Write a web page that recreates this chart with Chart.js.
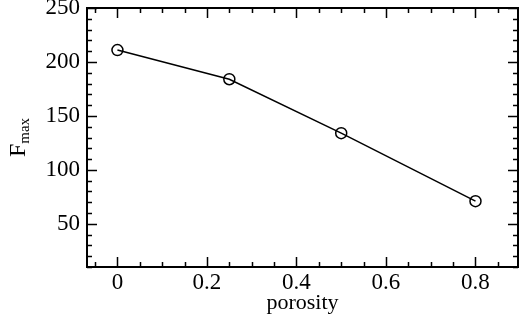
<!DOCTYPE html>
<html>
<head>
<meta charset="utf-8">
<script src="https://cdn.jsdelivr.net/npm/chart.js@4.4.1/dist/chart.umd.min.js"></script>
<style>
html,body{margin:0;padding:0;background:#fff;}
#wrap{width:521px;height:316px;position:relative;}
</style>
</head>
<body>
<div id="wrap"><canvas id="c" width="521" height="316"></canvas></div>
<script>
const porosity = [0, 0.25, 0.5, 0.8];
const fmax = [211, 184, 134, 71];
const xTicks = [0, 0.2, 0.4, 0.6, 0.8];
const yTicks = [50, 100, 150, 200, 250];
const xRange = [-0.068, 0.895];
const yRange = [10, 250];
const xMinorStep = 0.05;
const yMinorStep = 10;
const xLabel = 'porosity';
const yLabelMain = 'F';
const yLabelSub = 'max';

const FONT = "'Liberation Serif', 'Times New Roman', serif";

const tickPlugin = {
  id: 'insideTicks',
  afterDraw(chart) {
    const ctx = chart.ctx;
    const xs = chart.scales.x, ys = chart.scales.y;
    const a = chart.chartArea;
    ctx.save();
    ctx.strokeStyle = '#000';
    ctx.lineWidth = 2;
    ctx.strokeRect(a.left, a.top, a.right - a.left, a.bottom - a.top);
    ctx.lineWidth = 1.5;
    const majL = 10, minL = 5;
    for (let v = Math.ceil(xRange[0] / xMinorStep) * xMinorStep; v <= xRange[1] + 1e-9; v += xMinorStep) {
      const r = Math.round(v * 100) / 100;
      const isMaj = xTicks.some(t => Math.abs(t - r) < 1e-6);
      const L = isMaj ? majL : minL;
      const px = Math.round(xs.getPixelForValue(r)) + 0.5;
      ctx.beginPath();
      ctx.moveTo(px, a.bottom); ctx.lineTo(px, a.bottom - L);
      ctx.moveTo(px, a.top); ctx.lineTo(px, a.top + L);
      ctx.stroke();
    }
    for (let v = Math.ceil(yRange[0] / yMinorStep) * yMinorStep; v <= yRange[1] + 1e-9; v += yMinorStep) {
      const isMaj = yTicks.includes(v);
      const L = isMaj ? majL : minL;
      const py = Math.round(ys.getPixelForValue(v)) + 0.5;
      ctx.beginPath();
      ctx.moveTo(a.left, py); ctx.lineTo(a.left + L, py);
      ctx.moveTo(a.right, py); ctx.lineTo(a.right - L, py);
      ctx.stroke();
    }
    ctx.fillStyle = '#000';
    const cy = (a.top + a.bottom) / 2;
    ctx.translate(25, cy);
    ctx.rotate(-Math.PI / 2);
    ctx.font = '24px ' + FONT;
    const wF = ctx.measureText(yLabelMain).width;
    ctx.font = '15px ' + FONT;
    const wS = ctx.measureText(yLabelSub).width;
    const total = wF + wS;
    ctx.textBaseline = 'alphabetic';
    ctx.textAlign = 'left';
    ctx.font = '24px ' + FONT;
    ctx.fillText(yLabelMain, -total / 2, 0);
    ctx.font = '15px ' + FONT;
    ctx.fillText(yLabelSub, -total / 2 + wF, 4);
    ctx.restore();
  }
};

function zeroPad(s) { s.paddingLeft = 0; s.paddingRight = 0; s.paddingTop = 0; s.paddingBottom = 0; }

new Chart(document.getElementById('c'), {
  type: 'scatter',
  data: {
    datasets: [{
      data: porosity.map((x, i) => ({x: x, y: fmax[i]})),
      showLine: true,
      borderColor: '#000',
      borderWidth: 1.5,
      pointRadius: 5.5,
      pointHoverRadius: 5.5,
      pointBorderWidth: 1.5,
      pointBorderColor: '#000',
      pointBackgroundColor: 'rgba(0,0,0,0)',
      pointStyle: 'circle'
    }]
  },
  options: {
    responsive: false,
    animation: false,
    devicePixelRatio: 1,
    layout: {autoPadding: false, padding: {left: 0, top: 8, right: 3, bottom: 0}},
    plugins: {legend: {display: false}, tooltip: {enabled: false}},
    scales: {
      x: {
        type: 'linear',
        min: xRange[0], max: xRange[1],
        afterBuildTicks: s => { s.ticks = xTicks.map(v => ({value: v})); },
        afterFit: s => { s.height = 49; zeroPad(s); },
        grid: {display: false, drawTicks: false},
        border: {display: false},
        ticks: {
          color: '#000', padding: 2,
          font: {family: FONT, size: 23},
          maxRotation: 0,
          callback: v => String(v)
        },
        title: {display: true, text: xLabel, color: '#000', font: {family: FONT, size: 22}, padding: {top: -5, bottom: 0}}
      },
      y: {
        type: 'linear',
        min: yRange[0], max: yRange[1],
        afterBuildTicks: s => { s.ticks = yTicks.map(v => ({value: v})); },
        afterFit: s => { s.width = 87; zeroPad(s); },
        grid: {display: false, drawTicks: false},
        border: {display: false},
        ticks: {
          color: '#000', padding: 7,
          font: {family: FONT, size: 23},
          callback: v => String(v)
        }
      }
    }
  },
  plugins: [tickPlugin]
});
</script>
</body>
</html>
